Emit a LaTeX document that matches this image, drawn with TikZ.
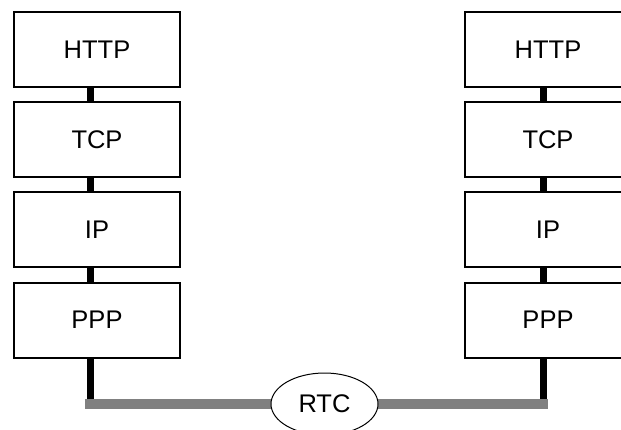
\documentclass[tikz,border=0pt]{standalone}
\usepackage{fontspec}
\setmainfont{Liberation Sans}
\usetikzlibrary{shapes.geometric}
\tikzset{
  layer/.style={draw, line width=2pt, fill=white, minimum width=166pt, minimum height=75pt, font=\fontsize{25.5}{28}\selectfont},
  link/.style={line width=7pt},
  wire/.style={line width=10pt, color=black!50, line cap=rect}
}

\begin{document}
\begin{tikzpicture}[x=1pt, y=-1pt]
		%%%%% START %%%%%
		
		\clip (0, 0) rectangle (621, 429);
		
		% left stack
		\node[layer] (lhttp) at (97, 49.5) {HTTP};
		\node[layer] (ltcp) at (97, 139.5) {TCP};
		\node[layer] (lip) at (97, 229.5) {IP};
		\node[layer] (lppp) at (97, 320) {PPP};
		
		% right stack
		\node[layer] (rhttp) at (548, 49.5) {HTTP};
		\node[layer] (rtcp) at (548, 139.5) {TCP};
		\node[layer] (rip) at (548, 229.5) {IP};
		\node[layer] (rppp) at (548, 320) {PPP};
		
		\coordinate (lend) at (90, 404);
		\coordinate (rend) at (543, 404);
		
		\draw[link] ([xshift=-7pt]lhttp.south) -- ([xshift=-7pt]ltcp.north);
		\draw[link] ([xshift=-7pt]ltcp.south) -- ([xshift=-7pt]lip.north);
		\draw[link] ([xshift=-7pt]lip.south) -- ([xshift=-7pt]lppp.north);
		\draw[link] ([xshift=-7pt]lppp.south) -- (lend);
		
		\draw[link] ([xshift=-5pt]rhttp.south) -- ([xshift=-5pt]rtcp.north);
		\draw[link] ([xshift=-5pt]rtcp.south) -- ([xshift=-5pt]rip.north);
		\draw[link] ([xshift=-5pt]rip.south) -- ([xshift=-5pt]rppp.north);
		\draw[link] ([xshift=-5pt]rppp.south) -- (rend);
		
		\draw[wire] (lend) -- (rend);
		
		\node[ellipse, draw, line width=1pt, fill=white, minimum width=107pt, minimum height=62pt, inner sep=0pt, font=\fontsize{25.5}{28}\selectfont] (rtc) at (324.5, 404) {RTC};
		
		%%%%% END %%%%%
	\end{tikzpicture}
\end{document}
